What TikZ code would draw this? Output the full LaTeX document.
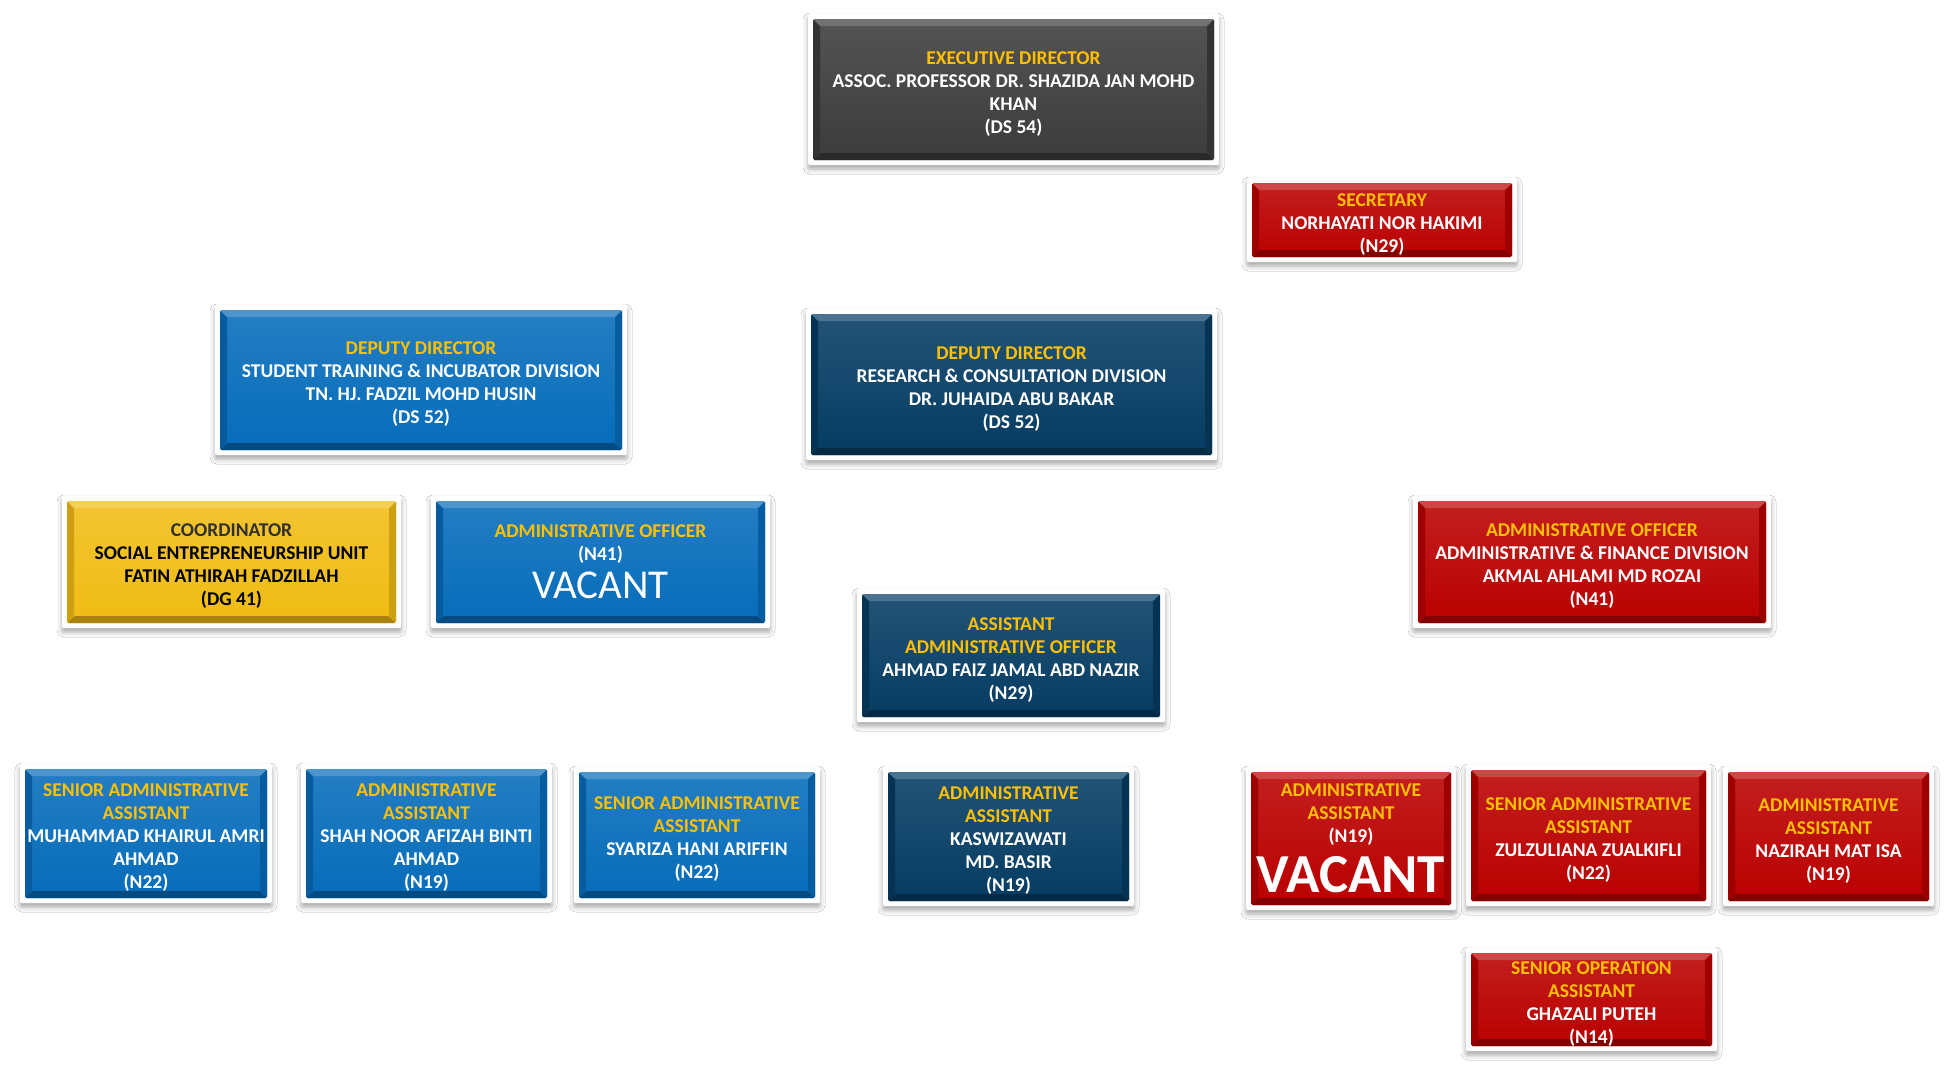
\documentclass[tikz,border=0pt]{standalone}
\usepackage{fontspec}
\setmainfont{Carlito}
\usetikzlibrary{shadows.blur}
\definecolor{cgray}{HTML}{3C3C3C}
\definecolor{cred}{HTML}{BA0000}
\definecolor{cblue}{HTML}{066CBA}
\definecolor{cnavy}{HTML}{053C63}
\definecolor{cyel}{HTML}{F0BC14}
\definecolor{cgold}{HTML}{FFC000}
\definecolor{ctxt}{HTML}{303030}
\newcommand\tl{\color{cgold}}
\newcommand\tsp{\rule{0pt}{21pt}}
\newcommand\bevelfill[1]{%
  \coordinate (bvA) at ([shift={(5pt,5pt)}]path picture bounding box.south west);
  \coordinate (bvB) at ([shift={(-5pt,-5pt)}]path picture bounding box.north east);
  \coordinate (bvC) at (bvA|-bvB);
  \coordinate (bvD) at (bvB|-bvA);
  \shade[top color=#1!88!white, bottom color=#1] (bvA) rectangle (bvB);
  \fill[#1!70!black] (bvA) -- (bvD) -- ([shift={(-7pt,7pt)}]bvD) -- ([shift={(7pt,7pt)}]bvA) -- cycle;
  \fill[#1!85!black] (bvA) -- ([shift={(7pt,7pt)}]bvA) -- ([shift={(7pt,-7pt)}]bvC) -- (bvC) -- cycle;
  \fill[#1!85!black] (bvD) -- ([shift={(-7pt,7pt)}]bvD) -- ([shift={(-7pt,-7pt)}]bvB) -- (bvB) -- cycle;
  \fill[#1!72!white] (bvC) -- (bvB) -- ([shift={(-7pt,-7pt)}]bvB) -- ([shift={(7pt,-7pt)}]bvC) -- cycle;
}
\tikzset{
  orgbox/.style={fill=white, rounded corners=1.5pt, inner sep=0pt, align=center,
    text=white, font=\fontsize{19.5}{23}\selectfont\bfseries,
    blur shadow={shadow xshift=0pt, shadow yshift=-4pt, shadow blur radius=5pt, shadow opacity=35},
    path picture={\bevelfill{#1}}},
  dims/.style 2 args={minimum width=#1pt, minimum height=#2pt},
}
\begin{document}
\begin{tikzpicture}[x=1pt,y=-1pt]
\useasboundingbox[fill=white] (0,0) rectangle (1951,1077);

\node[orgbox=cgray, dims={411}{151}] (exec) at (1013.5,89.5)
  {\tsp{\tl EXECUTIVE DIRECTOR}\\ASSOC. PROFESSOR DR. SHAZIDA JAN MOHD\\KHAN\\(DS 54)};
\node[orgbox=cred, dims={270}{84}] (sec) at (1382,220)
  {\tsp{\tl SECRETARY}\\NORHAYATI NOR HAKIMI\\(N29)};
\node[orgbox=cblue, dims={412}{150}] (ddst) at (421,380)
  {\tsp{\tl DEPUTY DIRECTOR}\\STUDENT TRAINING \& INCUBATOR DIVISION\\TN. HJ. FADZIL MOHD HUSIN\\(DS 52)};
\node[orgbox=cnavy, dims={411}{151}] (ddrc) at (1011.5,384.5)
  {\tsp{\tl DEPUTY DIRECTOR}\\RESEARCH \& CONSULTATION DIVISION\\DR. JUHAIDA ABU BAKAR\\(DS 52)};
\node[orgbox=cyel, dims={339}{132}, text=black] (coord) at (231.5,562)
  {\tsp{\color{ctxt}COORDINATOR}\\SOCIAL ENTREPRENEURSHIP UNIT\\FATIN ATHIRAH FADZILLAH\\(DG 41)};
\node[orgbox=cblue, dims={339}{132}] (aovac) at (600.5,562)
  {{\tl ADMINISTRATIVE OFFICER}\\(N41)\\[7pt]{\fontsize{41}{41}\selectfont\mdseries VACANT}};
\node[orgbox=cred, dims={358}{132}] (aofin) at (1592,562)
  {\tsp{\tl ADMINISTRATIVE OFFICER}\\ADMINISTRATIVE \& FINANCE DIVISION\\AKMAL AHLAMI MD ROZAI\\(N41)};
\node[orgbox=cnavy, dims={308}{133}] (aao) at (1011,655.5)
  {\tsp{\tl ASSISTANT}\\{\tl ADMINISTRATIVE OFFICER}\\AHMAD FAIZ JAMAL ABD NAZIR\\(N29)};
\node[orgbox=cblue, dims={252}{139}] (saa1) at (146,833.5)
  {\tsp{\tl SENIOR ADMINISTRATIVE}\\{\tl ASSISTANT}\\MUHAMMAD KHAIRUL AMRI\\AHMAD\\(N22)};
\node[orgbox=cblue, dims={251}{139}] (aa1) at (426.5,833.5)
  {\tsp{\tl ADMINISTRATIVE}\\{\tl ASSISTANT}\\SHAH NOOR AFIZAH BINTI\\AHMAD\\(N19)};
\node[orgbox=cblue, dims={246}{136}] (saa2) at (697,835)
  {\tsp{\tl SENIOR ADMINISTRATIVE}\\{\tl ASSISTANT}\\SYARIZA HANI ARIFFIN\\(N22)};
\node[orgbox=cnavy, dims={251}{139}] (aa2) at (1008.5,836.5)
  {\tsp{\tl ADMINISTRATIVE}\\{\tl ASSISTANT}\\KASWIZAWATI\\MD. BASIR\\(N19)};
\node[orgbox=cred, dims={210}{143}] (aavac) at (1351,838.5)
  {{\tl ADMINISTRATIVE}\\{\tl ASSISTANT}\\(N19)\\[10pt]{\fontsize{55}{50}\selectfont VACANT}};
\node[orgbox=cred, dims={245}{141}] (saa3) at (1588.5,835.5)
  {\tsp{\tl SENIOR ADMINISTRATIVE}\\{\tl ASSISTANT}\\ZULZULIANA ZUALKIFLI\\(N22)};
\node[orgbox=cred, dims={211}{139}] (aa3) at (1828.5,836.5)
  {\tsp{\tl ADMINISTRATIVE}\\{\tl ASSISTANT}\\NAZIRAH MAT ISA\\(N19)};
\node[orgbox=cred, dims={251}{103}] (soa) at (1591.5,999.5)
  {\tsp{\tl SENIOR OPERATION}\\{\tl ASSISTANT}\\GHAZALI PUTEH\\(N14)};
\end{tikzpicture}
\end{document}
